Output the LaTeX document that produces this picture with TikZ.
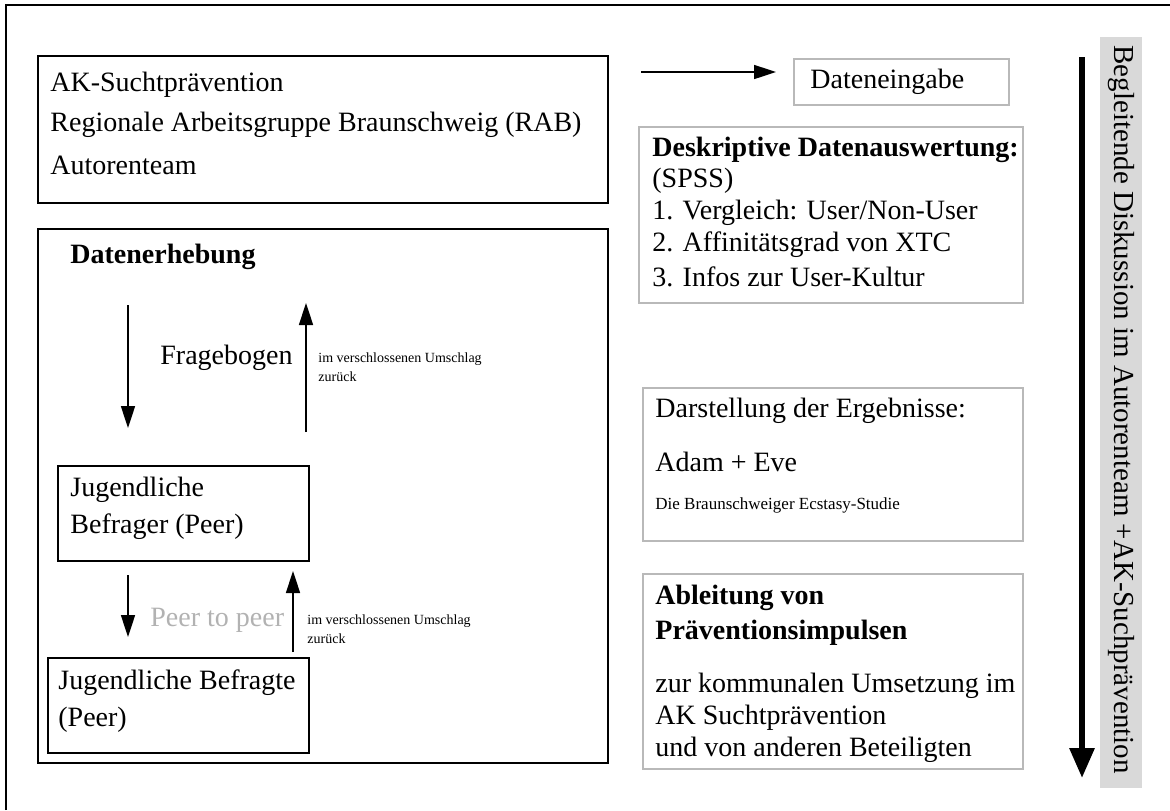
\documentclass[tikz,border=0pt]{standalone}
\usepackage{fontspec}
\setmainfont{Liberation Serif}
\usetikzlibrary{positioning, arrows.meta}

\tikzset{
  blackbox/.style={draw, line width=1pt, anchor=north west, inner sep=0pt},
  greybox/.style={draw=gray!55, line width=1pt, anchor=north west, inner sep=0pt},
  txt/.style={anchor=west, inner sep=0pt, font=\fontsize{14}{16}\selectfont},
  boldtxt/.style={anchor=west, inner sep=0pt, font=\fontsize{14}{16}\selectfont\bfseries},
  tinytxt/.style={anchor=north west, inner sep=0pt, align=left, font=\fontsize{7}{9.5}\selectfont},
  flow/.style={-{Triangle[length=11pt, width=7pt]}, line width=0.8pt},
}

\begin{document}
\begin{tikzpicture}[x=0.5pt, y=-0.5pt]
\useasboundingbox (0,0) rectangle (1170,810);
% outer frame
\draw[line width=1pt] (6,810) -- (6,5) -- (1170,5);

% who
\node[blackbox, minimum width=285pt, minimum height=73.5pt] (akbox) at (37,55) {};
\node[txt] (ak1) at (50,85) {AK-Suchtprävention};
\node[txt] (ak2) at (50,125) {Regionale Arbeitsgruppe Braunschweig (RAB)};
\node[txt] (ak3) at (50,165) {Autorenteam};

% data collection
\node[blackbox, minimum width=285pt, minimum height=267pt] (erhebung) at (37,228) {};
\node[boldtxt] (erhebungtitle) at (70,257) {Datenerhebung};

\coordinate (down1a) at (128,305);
\coordinate (down1b) at (128,428);
\coordinate (up1a) at (306,432);
\coordinate (up1b) at (306,303);
\draw[flow] (down1a) -- (down1b);
\draw[flow] (up1a) -- (up1b);
\node[txt] (frage) at (160,358) {Fragebogen};
\node[tinytxt] (zurueck1) at (318,352) {im verschlossenen Umschlag\\zurück};

\node[blackbox, minimum width=125.5pt, minimum height=47.5pt] (befrager) at (57,465) {};
\node[txt] (befrager1) at (70,490) {Jugendliche};
\node[txt] (befrager2) at (70,527) {Befrager (Peer)};

\coordinate (down2a) at (128,575);
\coordinate (down2b) at (128,637);
\coordinate (up2a) at (293,652);
\coordinate (up2b) at (293,571);
\draw[flow] (down2a) -- (down2b);
\draw[flow] (up2a) -- (up2b);
\node[txt, text=gray!60] (peer) at (150,620) {Peer to peer};
\node[tinytxt] (zurueck2) at (307,614) {im verschlossenen Umschlag\\zurück};

\node[blackbox, minimum width=130.5pt, minimum height=47.5pt] (befragte) at (47,657) {};
\node[txt] (befragte1) at (58,683) {Jugendliche Befragte};
\node[txt] (befragte2) at (58,720) {(Peer)};

% evaluation
\coordinate (eingstart) at (641,72);
\node[greybox, minimum width=107.5pt, minimum height=23pt] (eingabe) at (793,58) {};
\node[txt] (eingabetext) at (810,82) {Dateneingabe};
\draw[flow, shorten >=8.5pt] (eingstart) -- (eingstart -| eingabe.west);

\node[greybox, minimum width=192pt, minimum height=88pt] (deskriptiv) at (638,126) {};
\node[boldtxt] (desk1) at (652,150) {Deskriptive Datenauswertung:};
\node[txt] (desk2) at (652,181) {(SPSS)};
\node[txt] (desk3) at (652,213) {1. Vergleich: User/Non-User};
\node[txt] (desk4) at (652,245) {2. Affinitätsgrad von XTC};
\node[txt] (desk5) at (652,277) {3. Infos zur User-Kultur};

\node[greybox, minimum width=190pt, minimum height=76.5pt] (darstellung) at (642,387) {};
\node[txt] (dar1) at (655,411) {Darstellung der Ergebnisse:};
\node[txt] (dar2) at (655,462) {Adam + Eve};
\node[txt, font=\fontsize{8.5}{10}\selectfont] (dar3) at (655,505) {Die Braunschweiger Ecstasy-Studie};

\node[greybox, minimum width=190pt, minimum height=97.5pt] (ableitung) at (642,573) {};
\node[boldtxt] (abl1) at (655,598) {Ableitung von};
\node[boldtxt] (abl2) at (655,633) {Präventionsimpulsen};
\node[txt] (abl3) at (655,686) {zur kommunalen Umsetzung im};
\node[txt] (abl4) at (655,718) {AK Suchtprävention};
\node[txt] (abl5) at (655,750) {und von anderen Beteiligten};

% discussion
\coordinate (discstart) at (1082,57);
\coordinate (discend) at (1082,778);
\draw[line width=3pt, -{Triangle[length=15pt, width=12pt]}] (discstart) -- (discend);
\node[fill=gray!30, anchor=north west, inner sep=0pt, minimum width=21pt, minimum height=375.5pt] (discbar) at (1100,37) {};
\node[rotate=-90, anchor=west, inner sep=0pt, font=\fontsize{14.5}{17}\selectfont] (disctext) at (1121,45) {Begleitende Diskussion im Autorenteam +AK-Suchprävention};
\end{tikzpicture}
\end{document}
